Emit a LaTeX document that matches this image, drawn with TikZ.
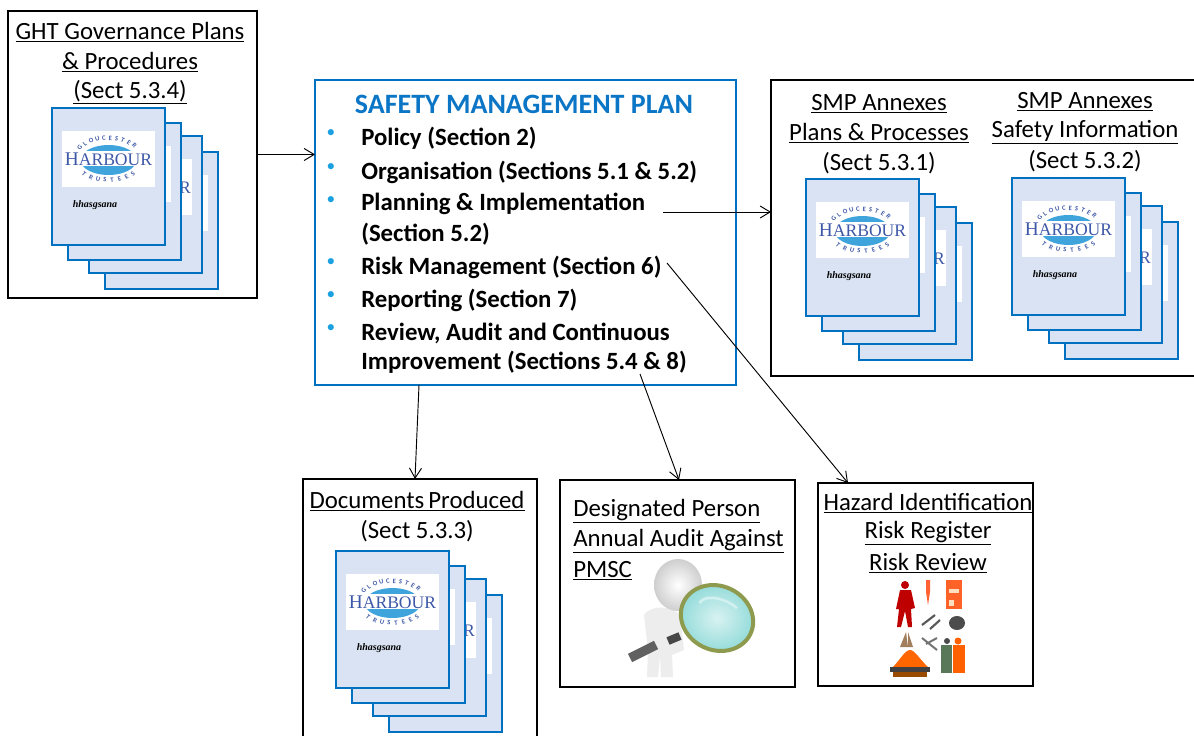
\documentclass[tikz,border=0pt]{standalone}
\usepackage{fontspec}
\setmainfont{Carlito}
\newfontfamily\logofont{Liberation Serif}
\usetikzlibrary{arrows.meta}
\definecolor{planblue}{HTML}{0070C0}
\definecolor{titleblue}{HTML}{0B75C6}
\definecolor{bulletblue}{HTML}{1BA1E2}
\definecolor{pagefill}{HTML}{D9E3F3}
\definecolor{logoblue}{HTML}{3E58A8}
\definecolor{lens}{HTML}{3FA4DC}
\definecolor{glass}{HTML}{8FDAD8}
\definecolor{rim}{HTML}{8E9A4E}
\newcommand{\logoletters}[2]{%
  \foreach \ch/\ang/\turn in {#2} {
    \node[logoletter,rotate=\turn] at ({56.5+#1*cos(\ang)},{51-21*sin(\ang)}) {\ch};
  }}
\tikzset{
  x=0.75pt,y=-0.75pt,
  framebox/.style={draw=black,line width=1.1pt,fill=white,outer sep=0pt},
  planbox/.style={draw=planblue,line width=1.5pt,fill=white,outer sep=0pt},
  pagebox/.style={draw=planblue,line width=1.6pt,fill=pagefill},
  linehead/.style={font=\fontsize{18.6}{20}\selectfont,inner sep=0pt,anchor=center},
  plantext/.style={font=\fontsize{18.6}{20}\selectfont\bfseries,inner sep=0pt,anchor=west},
  bulletmark/.style={font=\fontsize{13}{14}\selectfont,text=bulletblue,inner sep=0pt},
  logoletter/.style={font=\fontsize{5}{5}\selectfont\bfseries,text=logoblue,inner sep=0pt},
  link/.style={draw=black,line width=0.7pt,-{Straight Barb[length=7.5pt,width=9pt]}},
  backpage/.pic={
    \draw[pagebox] (0,0) rectangle (113,137);
    \fill[white] (10,23) rectangle (103,79);
  },
  frontpage/.pic={
    \draw[pagebox] (0,0) rectangle (113,137);
    \fill[white] (10,23) rectangle (103,79);
    \fill[lens] (56.5,52) ellipse (28 and 15);
    \fill[white] (17,43) rectangle (96,58);
    \node[inner sep=0pt,text=logoblue,font=\logofont\fontsize{13.2}{14}\selectfont] at (56.5,51) {\fontsize{14.5}{14}\selectfont H\fontsize{13.2}{14}\selectfont ARBOUR};
    \logoletters{34}{G/148/52,L/134/40,O/121/28,U/109/17,C/98/7,E/87/-3,S/76/-13,T/65/-24,E/53/-35,R/40/-47}
    \logoletters{34}{T/-136/-42,R/-121/-28,U/-108/-17,S/-96/-6,T/-84/6,E/-71/18,E/-58/28,S/-44/42}
    \node[inner sep=0pt,font=\logofont\itshape\bfseries\fontsize{7.5}{8}\selectfont] at (43,97) {hhasgsana};
  },
  docstack/.pic={
    \pic at (53,44) {backpage};
    \pic at (37,28) {backpage};
    \node[inner sep=0pt,text=logoblue,font=\logofont\fontsize{13.2}{14}\selectfont] at (133,80) {R};
    \pic at (16,15) {backpage};
    \pic at (0,0) {frontpage};
  },
}
\begin{document}
\begin{tikzpicture}
\useasboundingbox (0,0) rectangle (1194,735);
\fill[white] (0,0) rectangle (1194,735);
% frames
\node[framebox,minimum width=186.75pt,minimum height=215.25pt,inner sep=0pt,anchor=north west] (gov) at (8,11) {};
\node[planbox,anchor=north west,minimum width=315.75pt,minimum height=228.75pt,inner sep=0pt] (plan) at (315,80) {};
\draw[framebox] (1196,80) -- (771,80) -- (771,376) -- (1196,376);
\coordinate (smpW) at (771,212);
\draw[framebox] (303,737) -- (303,479) -- (537,479) -- (537,737);
\coordinate (docN) at (415,479);
\node[framebox,anchor=north west,minimum width=176.25pt,minimum height=155.25pt,inner sep=0pt] (audit) at (560,480) {};
\node[framebox,anchor=north west,minimum width=161.25pt,minimum height=152.25pt,inner sep=0pt] (hazard) at (818,483) {};
% stacks
\pic (govstack) at (52,108) {docstack};
\pic (annexa) at (806,179) {docstack};
\pic (annexb) at (1012,178) {docstack};
\pic (docstack) at (336,551) {docstack};
% governance text
\node[linehead] (g1) at (130,32) {\underline{GHT Governance Plans}};
\node[linehead] (g2) at (130,62) {\underline{\& Procedures}};
\node[linehead] (g3) at (130,92) {\underline{(Sect 5.3.4)}};
% plan text
\node[inner sep=0pt,text=titleblue,font=\fontsize{21}{24}\selectfont\bfseries] (ptitle) at (524,104) {SAFETY MANAGEMENT PLAN};
\foreach \yy in {134,168,201,263,296,329} \node[bulletmark] at (331,\yy) {•};
\node[plantext] (p1) at (361,138) {Policy (Section 2)};
\node[plantext] (p2) at (361,172) {Organisation (Sections 5.1 \& 5.2)};
\node[plantext] (p3) at (361,204) {Planning \& Implementation};
\node[plantext] (p4) at (361,234) {(Section 5.2)};
\node[plantext] (p5) at (361,267) {Risk Management (Section 6)};
\node[plantext] (p6) at (361,300) {Reporting (Section 7)};
\node[plantext] (p7) at (361,333) {Review, Audit and Continuous};
\node[plantext] (p8) at (361,362) {Improvement (Sections 5.4 \& 8)};
% annex text
\node[linehead] (a1) at (879,104) {\underline{SMP Annexes}};
\node[linehead] (a2) at (879,133) {\underline{Plans \& Processes}};
\node[linehead] (a3) at (879,163) {(Sect 5.3.1)};
\node[linehead] (b1) at (1085,102) {\underline{SMP Annexes}};
\node[linehead] (b2) at (1085,132) {\underline{Safety Information}};
\node[linehead] (b3) at (1085,161) {(Sect 5.3.2)};
% documents text
\node[linehead] (d1) at (417,501) {\underline{Documents\,Produced}};
\node[linehead] (d2) at (417,531) {(Sect 5.3.3)};
% audit picture
\begin{scope}
  \fill[gray!14] (644,615) .. controls (650,605) and (672,605) .. (680,615) -- (684,650) -- (672,655) -- (673,677) -- (661,677) -- (660,655) -- (658,677) -- (647,677) -- (648,650) -- cycle;
  \shade[inner color=white,outer color=gray!38] (678,585) ellipse (24 and 26);
  \draw[line width=7pt,black!62] (630,658) -- (656,645);
  \draw[line width=6pt,black!72] (668,641) -- (680,636);
  \begin{scope}[rotate around={-25:(717,618)}]
    \shade[inner color=glass!35,outer color=glass] (717,618) ellipse (36 and 31);
    \draw[line width=3pt,rim] (717,618) ellipse (37 and 32);
    \draw[white!60!glass,line width=2pt] (695,612) arc (180:300:24 and 13);
  \end{scope}
\end{scope}
\node[linehead,anchor=west] (u1) at (573,511) {\underline{Designated Person}};
\node[linehead,anchor=west] (u2) at (573,541) {\underline{Annual Audit Against}};
\node[linehead,anchor=west] (u3) at (573,571) {\underline{PMSC}};
% hazard text
\node[linehead] (h1) at (928,503) {\underline{Hazard Identification}};
\node[linehead] (h2) at (928,533) {\underline{Risk Register}};
\node[linehead] (h3) at (928,563) {\underline{Risk Review}};
% hazard picture
\begin{scope}
  \fill[red!75!black] (905,585) circle (4);
  \fill[red!75!black] (900,590) -- (911,590) -- (915,608) -- (911,609) -- (912,627) -- (908,627) -- (905,611) -- (901,627) -- (897,627) -- (899,609) -- (896,609) -- cycle;
  \fill[red!55!orange!80] (926,580) -- (930,580) -- (930,592) -- (928,605) -- (926,592) -- cycle;
  \fill[red!45!orange!85] (946,580) rectangle (962,609);
  \fill[orange!25] (949,589) rectangle (959,593);
  \fill[orange!25] (949,600) rectangle (954,606);
  \draw[black!65,line width=1.6pt] (922,625) -- (935,615) (930,629) -- (940,620);
  \fill[black!70] (957,623) ellipse (8 and 7);
  \fill[brown!55!gray] (900,647) -- (906,632) -- (908,647) -- cycle;
  \fill[brown!55!gray] (908,647) -- (908,632) -- (913,647) -- cycle;
  \draw[black!55,line width=1.5pt] (922,638) -- (937,650) (926,644) -- (937,638);
  \fill[black!60!green!30!gray] (941,645) rectangle (952,673);
  \fill[black!70] (947,641) circle (3);
  \fill[orange!75!red] (953,645) rectangle (965,673);
  \fill[orange!75!red] (958,641) circle (3.5);
  \fill[orange!80!red] (892,668) .. controls (900,660) and (905,650) .. (910,650) .. controls (915,650) and (920,660) .. (929,668) -- cycle;
  \fill[black!75] (890,667) rectangle (930,672);
  \fill[orange!60!black] (893,672) rectangle (927,677);
\end{scope}
% connectors
\coordinate (planOut1) at (663,212);
\coordinate (planOut2) at (667,263);
\coordinate (planOut3) at (640,374);
\coordinate (planOut4) at (419,385);
\coordinate (auditIn) at (679,480);
\coordinate (hazIn) at (848,483);
\draw[link] (gov.east) -- (plan.west |- gov.east);
\draw[link] (planOut1) -- (smpW);
\draw[link] (planOut2) -- (hazIn);
\draw[link] (planOut3) -- (auditIn);
\draw[link] (planOut4) -- (docN);
\end{tikzpicture}
\end{document}
